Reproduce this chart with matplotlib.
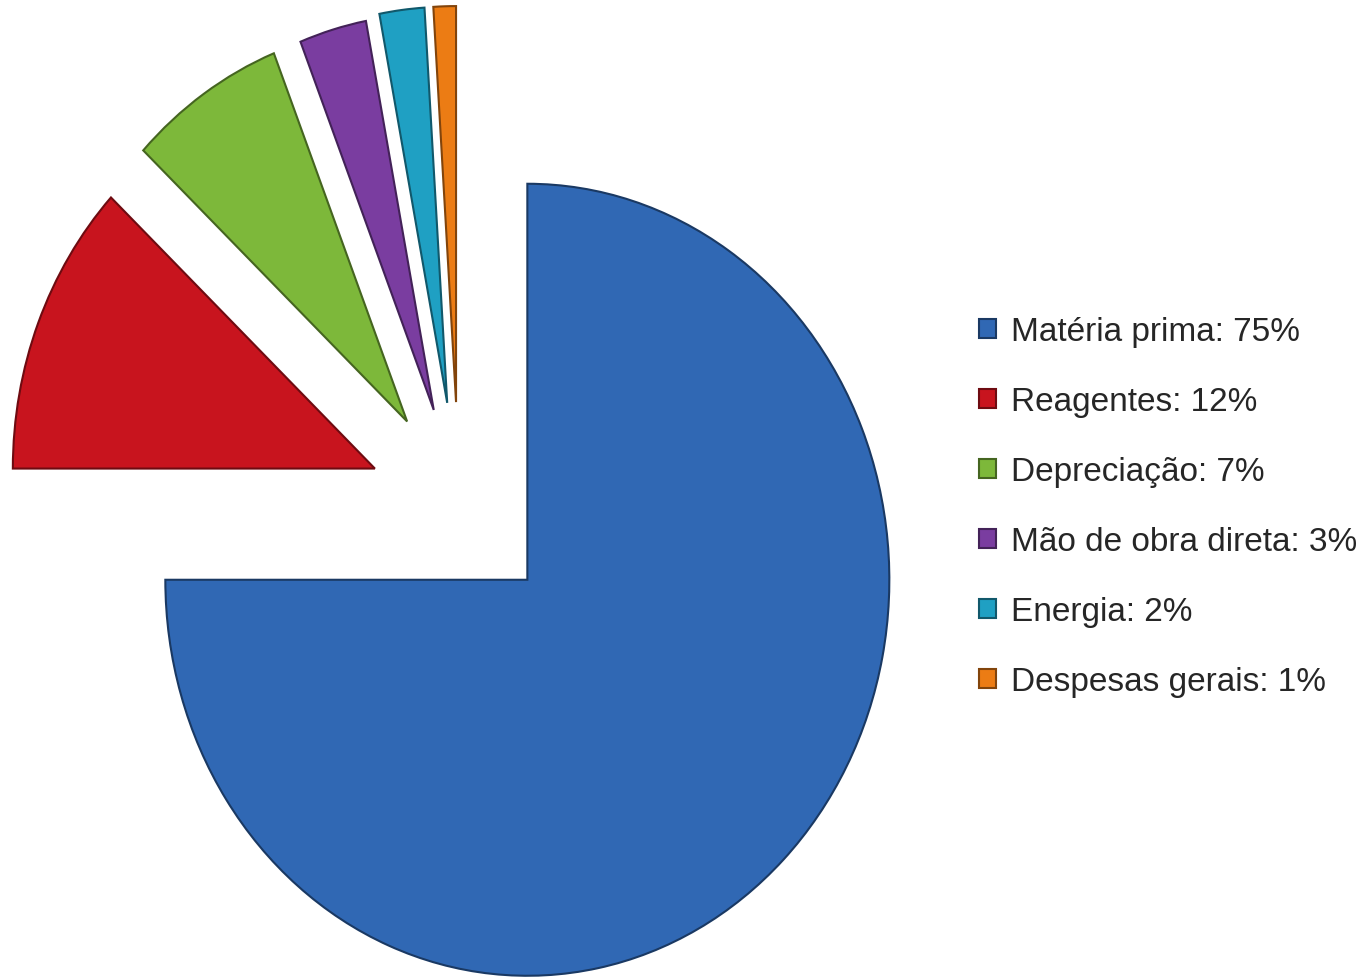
import numpy as np
import matplotlib.pyplot as plt
from matplotlib.colors import to_rgb

# dados do grafico (custos)
categorias = ["Matéria prima", "Reagentes", "Depreciação", "Mão de obra direta", "Energia", "Despesas gerais"]
valores = [75, 12, 7, 3, 2, 1]
cores = ["#3068B4", "#C8141E", "#7DB83A", "#7A3DA0", "#1FA0C3", "#EC7C14"]
afastamento = [0.267, 0.25, 0.255, 0.25, 0.26, 0.26]
rotulos = [f"{c}: {v}%" for c, v in zip(categorias, valores)]

plt.rcParams['font.family'] = ['Liberation Sans', 'DejaVu Sans']

fig = plt.figure(figsize=(13.69, 9.8), dpi=100)
ax = fig.add_axes([0, 0, 1, 1])

fatias, _ = ax.pie(valores, explode=afastamento, colors=cores,
                   startangle=90, counterclock=False)

# borda um pouco mais escura em cada fatia
for w, c in zip(fatias, cores):
    r, g, b = to_rgb(c)
    w.set_edgecolor((r * 0.55, g * 0.55, b * 0.55))
    w.set_linewidth(1.5)

# a imagem original e um pouco esticada na vertical
ax.set_aspect('auto')
ax.set_xlim(-459 / 362, (1369 - 459) / 362)
ax.set_ylim(-(980 - 505) / 396, 505 / 396)
ax.axis('off')

fig.legend(fatias, rotulos, loc='center left', bbox_to_anchor=(979 / 1369, 1 - 507 / 980),
           frameon=False, fontsize=24, labelcolor='#262626',
           handlelength=0.5, handleheight=0.5, handletextpad=0.45,
           labelspacing=1.17, borderpad=0, borderaxespad=0)

fig.savefig("out.png", dpi=100, facecolor='white')
